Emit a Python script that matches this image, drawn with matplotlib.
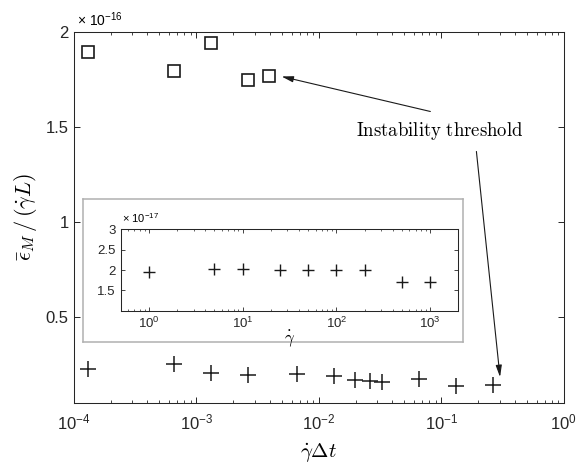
import matplotlib
matplotlib.use("Agg")
import matplotlib.pyplot as plt
from matplotlib import rcParams
from matplotlib.ticker import LogLocator, NullLocator, FixedLocator

rcParams.update({
    "font.family": "Liberation Sans",
    "mathtext.fontset": "cm",
    "axes.linewidth": 0.75,
    "axes.edgecolor": "#262626",
    "xtick.color": "#262626",
    "ytick.color": "#262626",
})

# main plot data (y in units of 1e-16)
sq_x = [1.32e-4, 6.6e-4, 1.32e-3, 2.64e-3, 3.96e-3]
sq_y = [1.893, 1.793, 1.939, 1.749, 1.765]
pl_x = [1.32e-4, 6.6e-4, 1.32e-3, 2.64e-3, 6.6e-3, 1.32e-2, 1.98e-2,
        2.64e-2, 3.3e-2, 6.6e-2, 0.132, 0.264]
pl_y = [0.227, 0.254, 0.206, 0.195, 0.202, 0.191, 0.170, 0.165, 0.158,
        0.176, 0.139, 0.144]

# inset data (y in units of 1e-17)
in_x = [1, 5, 10, 25, 50, 100, 200, 500, 1000]
in_y = [1.96, 2.025, 2.025, 1.99, 1.99, 1.99, 1.99, 1.71, 1.71]

main_yticks = [0.5, 1, 1.5, 2]
inset_yticks = [1.5, 2, 2.5, 3]

fig = plt.figure(figsize=(5.76, 4.74), dpi=100)
ax = fig.add_axes([0.128, 0.1498, 0.8507, 0.7833])

ax.plot(sq_x, sq_y, ls="none", marker="s", ms=8.5, mfc="none", mec="#1a1a1a", mew=1.2)
ax.plot(pl_x, pl_y, ls="none", marker="+", ms=11.5, mec="#1a1a1a", mew=1.1)

ax.set_xscale("log")
ax.set_xlim(1e-4, 1)
ax.set_ylim(0.05, 2)
ax.yaxis.set_major_locator(FixedLocator(main_yticks))
ax.set_yticklabels([f"{v:g}" for v in main_yticks])
ax.yaxis.set_minor_locator(NullLocator())
ax.xaxis.set_major_locator(LogLocator(base=10, numticks=10))
ax.xaxis.set_minor_locator(LogLocator(base=10, subs=range(2, 10), numticks=20))
ax.tick_params(which="both", direction="in", top=True, right=True, labelsize=12)
ax.tick_params(which="major", length=4, width=0.7)
ax.tick_params(which="minor", length=2, width=0.6)
ax.tick_params(axis="x", pad=7)

ax.set_xlabel(r"$\dot{\gamma}\Delta t$", fontsize=15, labelpad=6)
ax.set_ylabel(r"$\bar{\epsilon}_M\,/\,(\dot{\gamma}L)$", fontsize=16, labelpad=5)
fig.text(0.134, 0.958, r"$\mathdefault{×\ 10^{-16}}$", fontsize=10, va="center", ha="left")

# annotation
ax.text(0.0977, 1.479, r"$\mathrm{Instability\ threshold}$", fontsize=13.5,
        ha="center", va="center")
arrow = dict(arrowstyle="-|>,head_length=0.7,head_width=0.18", color="#1a1a1a",
             lw=0.8, shrinkA=0, shrinkB=0)
ax.annotate("", xy=(4.97e-3, 1.765), xytext=(0.0815, 1.581), arrowprops=arrow)
ax.annotate("", xy=(0.302, 0.186), xytext=(0.1937, 1.371), arrowprops=arrow)

# inset frame
frame = fig.add_axes([0.1441, 0.2791, 0.6592, 0.3011])
frame.set_xticks([])
frame.set_yticks([])
for s in frame.spines.values():
    s.set_color("#b0b0b0")
    s.set_linewidth(1.1)
frame.set_zorder(3)

ins = fig.add_axes([0.2095, 0.3445, 0.5861, 0.1717])
ins.set_zorder(4)
ins.plot(in_x, in_y, ls="none", marker="+", ms=8, mec="#1a1a1a", mew=1.0)
ins.set_xscale("log")
ins.set_xlim(0.5, 2000)
ins.set_ylim(1, 3)
ins.yaxis.set_major_locator(FixedLocator(inset_yticks))
ins.set_yticklabels([f"{v:g}" for v in inset_yticks])
ins.yaxis.set_minor_locator(NullLocator())
ins.xaxis.set_minor_locator(LogLocator(base=10, subs=range(2, 10), numticks=20))
ins.tick_params(which="both", direction="in", top=True, right=True, labelsize=9.5)
ins.tick_params(which="major", length=3, width=0.6)
ins.tick_params(which="minor", length=1.5, width=0.5)
ins.tick_params(axis="x", pad=4)
ins.set_xlabel(r"$\dot{\gamma}$", fontsize=12, labelpad=-2)
fig.text(0.211, 0.539, r"$\mathdefault{×\ 10^{-17}}$", fontsize=8, va="center", ha="left")

fig.savefig("out.png", dpi=100)
